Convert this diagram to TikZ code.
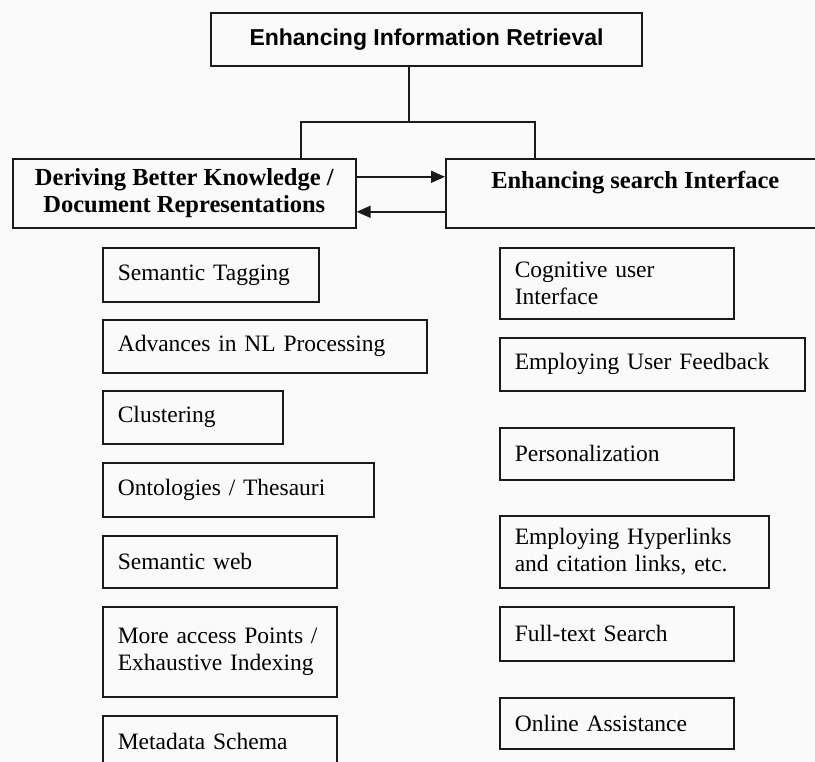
\documentclass[tikz,border=0pt]{standalone}
\usepackage{fontspec}
\setmainfont{Liberation Serif}
\newfontfamily\headfont{Liberation Sans}
\usepackage{tikz}
\usetikzlibrary{positioning, arrows.meta}
\definecolor{paper}{HTML}{FAFAFA}
\definecolor{ink}{HTML}{1A1A1A}

\begin{document}
\begin{tikzpicture}[x=1pt, y=-1pt, every node/.style={align=center}]
    \tikzset{headbox/.style={draw=ink,line width=1.6pt,font=\headfont\bfseries\fontsize{23}{27}\selectfont,minimum width=431pt,minimum height=53pt},
      groupbox/.style={draw=ink,line width=1.6pt,font=\bfseries\fontsize{24.5}{27.5}\selectfont,minimum height=69pt,anchor=north west},
      itembox/.style={draw=ink,line width=1.6pt,font=\fontsize{23.5}{27.5}\selectfont,align=left,anchor=north west,inner xsep=15pt},
      link/.style={draw=ink,line width=1.6pt},
      arrow/.style={-{Triangle[length=14pt,width=12pt]},line width=1.6pt,draw=ink}}
    \useasboundingbox (0,0) rectangle (815,762);
    \clip (0,0) rectangle (815,762);
    \fill[paper] (0,0) rectangle (815,762);
    \node[headbox] (ir) at (426.5,39.5) {Enhancing Information Retrieval};
    \node[groupbox,minimum width=343pt] (know) at (12,158) {Deriving Better Knowledge /\\Document Representations};
    \node[groupbox,minimum width=379pt] (iface) at (445,158) {Enhancing search Interface\\~};
    \coordinate (stem) at (409,122); \coordinate (forkl) at (301,122); \coordinate (forkr) at (535,122);
    \draw[link] (ir.south -| stem) -- (stem);
    \draw[link] (know.north -| forkl) |- (forkr) -- (iface.north -| forkr);
    \draw[arrow] ([yshift=16.5pt]know.east) -- ([yshift=16.5pt]iface.west);
    \draw[arrow] ([yshift=-18.5pt]iface.west) -- ([yshift=-18.5pt]know.east);
    % left column
    \node[itembox,text width=186pt,minimum height=54pt] (tag) at (102,247) {Semantic Tagging};
    \node[itembox,text width=294pt,minimum height=53pt] (nlp) at (102,319) {Advances in NL Processing};
    \node[itembox,text width=150pt,minimum height=53pt] (clus) at (102,390) {Clustering};
    \node[itembox,text width=241pt,minimum height=54pt] (onto) at (102,462) {Ontologies / Thesauri};
    \node[itembox,text width=204pt,minimum height=52pt] (sweb) at (102,535) {Semantic web};
    \node[itembox,text width=204pt,minimum height=90pt] (access) at (102,606) {More access Points /\\Exhaustive Indexing};
    \node[itembox,text width=204pt,minimum height=52pt] (meta) at (102,715) {Metadata Schema};
    % right column
    \node[itembox,text width=204pt,minimum height=71pt] (cogn) at (499,247) {Cognitive user\\Interface};
    \node[itembox,text width=275pt,minimum height=53pt] (feed) at (499,337) {Employing User Feedback};
    \node[itembox,text width=204pt,minimum height=52pt] (pers) at (499,427) {Personalization};
    \node[itembox,text width=239pt,minimum height=72pt] (hyper) at (499,515) {Employing Hyperlinks\\and citation links, etc.};
    \node[itembox,text width=204pt,minimum height=54pt] (full) at (499,606) {Full-text Search};
    \node[itembox,text width=204pt,minimum height=51pt] (online) at (499,697) {Online Assistance};
\end{tikzpicture}
\end{document}
